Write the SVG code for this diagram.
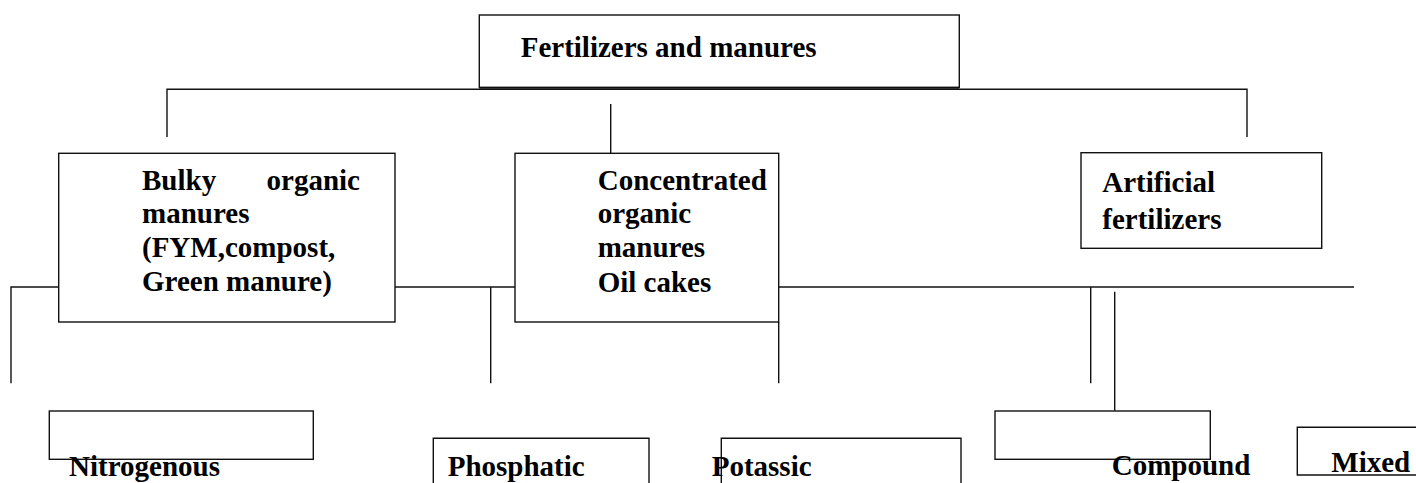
<svg xmlns="http://www.w3.org/2000/svg" width="1416" height="483" viewBox="0 0 1416 483">
<style>
.box{fill:none;stroke:#111;stroke-width:1.4}
.ln{fill:none;stroke:#111;stroke-width:1.4}
text{font-family:"Liberation Serif","Times New Roman",serif;font-weight:bold;font-size:29px;fill:#000}
</style>
<rect width="1416" height="483" fill="#fff"/>
<g id="connectors">
<path class="ln" d="M167,137 V89.3 H1247 V137"/>
<path class="ln" d="M610.7,104 V153"/>
<path class="ln" d="M11,383.3 V287 H58.7"/>
<path class="ln" d="M395,287 H515"/>
<path class="ln" d="M490.7,287 V383.3"/>
<path class="ln" d="M778.7,287 H1354"/>
<path class="ln" d="M778.7,322 V383.3"/>
<path class="ln" d="M1090.7,287 V383.3"/>
<path class="ln" d="M1114.7,291.7 V410.7"/>
</g>
<g id="node-top">
<rect class="box" x="479.3" y="15" width="480" height="72.3"/>
<line class="ln" x1="479.3" y1="88" x2="959.3" y2="88"/>
<text x="520.7" y="57">Fertilizers and manures</text>
</g>
<g id="node-bulky">
<rect class="box" x="58.7" y="153.3" width="336.3" height="168.7"/>
<text x="142" y="190">Bulky</text>
<text x="360" y="190" text-anchor="end">organic</text>
<text x="142" y="223">manures</text>
<text x="142" y="257">(FYM,compost,</text>
<text x="142" y="290.5">Green manure)</text>
</g>
<g id="node-concentrated">
<rect class="box" x="515" y="153.3" width="263.7" height="168.7"/>
<text x="597.7" y="190">Concentrated</text>
<text x="597.7" y="223">organic</text>
<text x="597.7" y="257">manures</text>
<text x="597.7" y="292">Oil cakes</text>
</g>
<g id="node-artificial">
<rect class="box" x="1081" y="152.7" width="240.7" height="95.6"/>
<text x="1102.3" y="191.7">Artificial</text>
<text x="1102.3" y="229">fertilizers</text>
</g>
<g id="node-nitrogenous">
<rect class="box" x="49.3" y="411" width="264" height="48.3"/>
<text x="69" y="475.7">Nitrogenous</text>
</g>
<g id="node-phosphatic">
<path class="box" d="M433.3,484 V438.3 H649 V484"/>
<text x="447.7" y="475.7">Phosphatic</text>
</g>
<g id="node-potassic">
<path class="box" d="M721.3,484 V438.3 H961 V484"/>
<text x="711.7" y="476">Potassic</text>
</g>
<g id="node-compound">
<rect class="box" x="995" y="411" width="215.3" height="48.3"/>
<text x="1111.7" y="475.3">Compound</text>
</g>
<g id="node-mixed">
<path class="box" d="M1418,427.3 H1297.3 V475 H1418"/>
<text x="1331.3" y="472.3">Mixed</text>
</g>
</svg>
